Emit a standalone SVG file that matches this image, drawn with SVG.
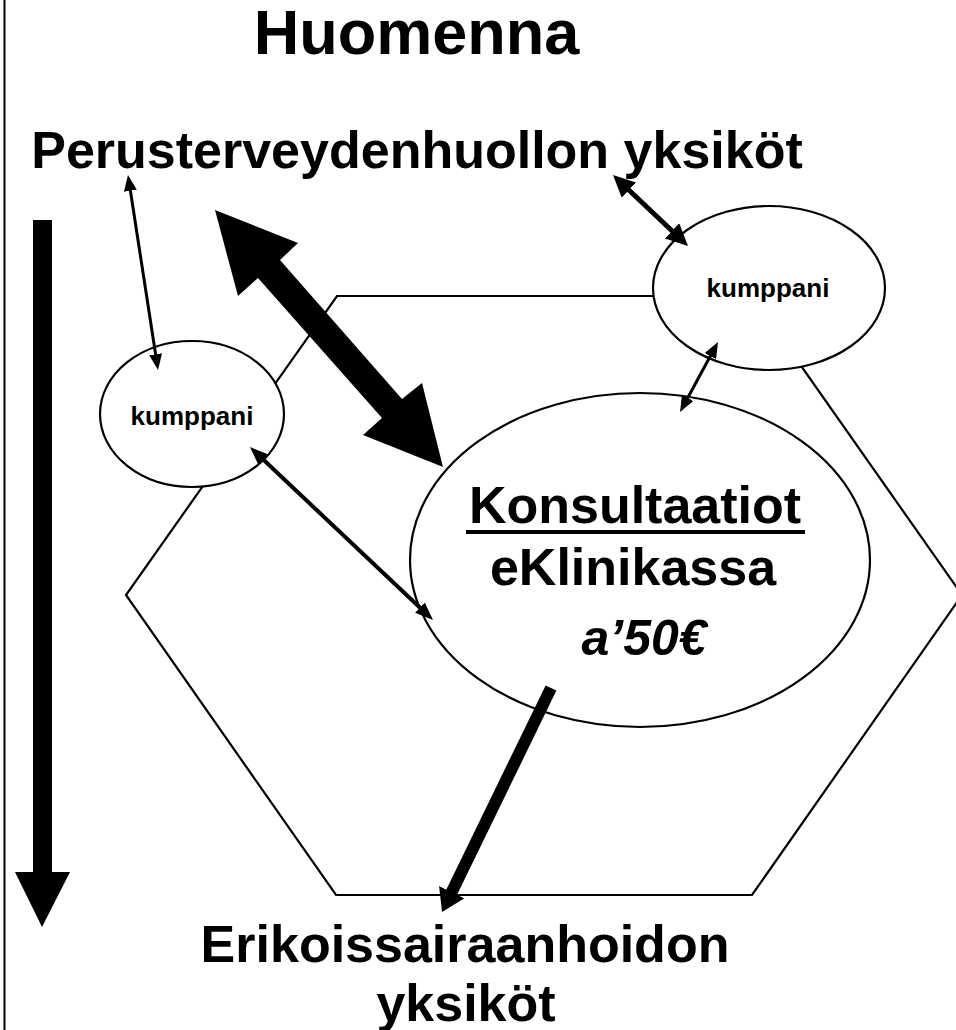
<svg xmlns="http://www.w3.org/2000/svg" width="956" height="1030" viewBox="0 0 956 1030">
<defs>
<style>
.t{font-family:"Liberation Sans",Arial,sans-serif;font-weight:bold;fill:#000;text-anchor:middle}
.shape{fill:#fff;stroke:#000;stroke-width:2.2}
.ln{stroke:#000;fill:none}
</style>
<marker id="hs" markerUnits="userSpaceOnUse" viewBox="0 0 16 13" markerWidth="16" markerHeight="13" refX="2" refY="6.5" orient="auto-start-reverse"><path d="M0,0 L16,6.5 L0,13 z" fill="#000"/></marker>
<marker id="hm" markerUnits="userSpaceOnUse" viewBox="0 0 18 14" markerWidth="18" markerHeight="14" refX="2" refY="7" orient="auto-start-reverse"><path d="M0,0 L18,7 L0,14 z" fill="#000"/></marker>
<marker id="hl" markerUnits="userSpaceOnUse" viewBox="0 0 22 21" markerWidth="22" markerHeight="21" refX="2" refY="10.5" orient="auto-start-reverse"><path d="M0,0 L22,10.5 L0,21 z" fill="#000"/></marker>
<marker id="hx" markerUnits="userSpaceOnUse" viewBox="0 0 22 28" markerWidth="22" markerHeight="28" refX="2" refY="14" orient="auto"><path d="M0,0 L22,14 L0,28 z" fill="#000"/></marker>
</defs>
<rect width="956" height="1030" fill="#fff"/>
<line x1="4.5" y1="0" x2="4.5" y2="1030" stroke="#000" stroke-width="2"/>

<g id="hexagon"><polygon class="shape" points="337,296 752,296 962,595 752,895 336,895 126,595"/></g>

<g id="title"><text class="t" x="416.5" y="54" font-size="63">Huomenna</text></g>
<g id="perus"><text class="t" x="417" y="168" font-size="52">Perusterveydenhuollon yksiköt</text></g>
<g id="erikois"><text class="t" x="465" y="962" font-size="52">Erikoissairaanhoidon</text><text class="t" x="466" y="1021" font-size="52">yksiköt</text></g>

<g id="kumppani-left"><ellipse class="shape" cx="192" cy="414" rx="92" ry="73"/><text class="t" x="192" y="425" font-size="26">kumppani</text></g>
<g id="kumppani-right"><ellipse class="shape" cx="769" cy="288" rx="116" ry="82"/><text class="t" x="768" y="297" font-size="26">kumppani</text></g>
<g id="eklinikka"><ellipse class="shape" cx="640" cy="560" rx="230" ry="167"/>
<text class="t" x="635" y="523" font-size="52">Konsultaatiot</text>
<rect x="466" y="530" width="339" height="4" fill="#000"/>
<text class="t" x="633" y="585" font-size="52">eKlinikassa</text>
<text class="t" x="644" y="655" font-size="50" font-style="italic">a’50€</text></g>

<g id="connectors">
<polygon points="33,220 52,220 52,872 70,872 42,927 15,872 33,872" fill="#000"/>
<polygon points="215,210 298,243 280,260 402,399 422,383 443,467 363,435 382,418 258,278 238,296" fill="#000"/>
<line class="ln" stroke-width="3" x1="130.1" y1="188.8" x2="155.9" y2="356.2" marker-start="url(#hs)" marker-end="url(#hs)"/>
<line class="ln" stroke-width="4" x1="261.6" y1="458" x2="421.4" y2="609" marker-start="url(#hm)" marker-end="url(#hm)"/>
<line class="ln" stroke-width="5" x1="627.5" y1="188.7" x2="673.5" y2="232.3" marker-start="url(#hl)" marker-end="url(#hl)"/>
<line class="ln" stroke-width="3" x1="711.3" y1="354.3" x2="686.7" y2="399.7" marker-start="url(#hs)" marker-end="url(#hs)"/>
<line class="ln" stroke-width="12" x1="551" y1="688" x2="450.8" y2="894" marker-end="url(#hx)"/>
</g>
</svg>
